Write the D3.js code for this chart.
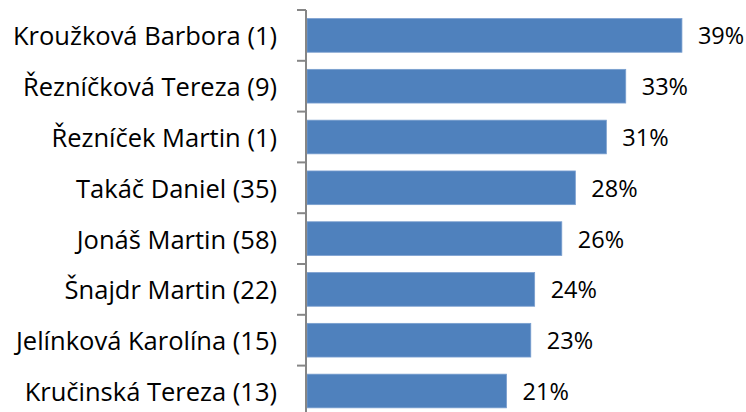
<!DOCTYPE html>
<html>
<head>
<meta charset="utf-8">
<script src="https://cdn.jsdelivr.net/npm/d3@7"></script>
<style>
  html, body { margin: 0; padding: 0; background: #fff; }
  svg { display: block; }
</style>
</head>
<body>
<svg id="chart" width="746" height="412"></svg>
<script>
// Category labels (name and count) from top to bottom
const names = [
  "Kroužková Barbora (1)",
  "Řezníčková Tereza (9)",
  "Řezníček Martin (1)",
  "Takáč Daniel (35)",
  "Jonáš Martin (58)",
  "Šnajdr Martin (22)",
  "Jelínková Karolína (15)",
  "Kručinská Tereza (13)"
];
// Share for each person
const shares = [0.388, 0.330, 0.310, 0.278, 0.264, 0.236, 0.232, 0.207];
// Horizontal value range
const xDomain = [0, 0.45];

const svg = d3.select("#chart");
const font = "'Open Sans', Lato, sans-serif";

const axisX = 306;
const x = d3.scaleLinear().domain(xDomain).range([axisX, 742]);
const pad = 0.337;
const y = d3.scaleBand().domain(names).range([10, 416.4])
  .paddingInner(pad).paddingOuter(pad / 2);
const step = y.step();

// Bars
svg.append("g").selectAll("rect")
  .data(names)
  .join("rect")
  .attr("x", x(0) + 1)
  .attr("y", d => y(d))
  .attr("width", (d, i) => x(shares[i]) - x(0) - 1)
  .attr("height", y.bandwidth())
  .attr("fill", "#4F81BD")
  .attr("stroke", "#7A9FCF")
  .attr("stroke-width", 0.8);

// Category axis with boundary ticks
const axis = svg.append("g").attr("stroke", "#868686").attr("stroke-width", 2);
axis.append("line")
  .attr("x1", axisX).attr("x2", axisX)
  .attr("y1", y.range()[0]).attr("y2", y.range()[1]);
const bounds = names.map(d => y(d) - step * pad / 2).concat([y.range()[1]]);
axis.selectAll("line.tick")
  .data(bounds)
  .join("line")
  .attr("class", "tick")
  .attr("x1", axisX - 9).attr("x2", axisX)
  .attr("y1", d => d).attr("y2", d => d);

// Category labels
svg.append("g").selectAll("text")
  .data(names)
  .join("text")
  .attr("x", 277)
  .attr("y", d => y(d) + y.bandwidth() / 2)
  .attr("text-anchor", "end")
  .attr("dominant-baseline", "central")
  .attr("font-family", font)
  .attr("font-size", 25.5)
  .attr("fill", "#000")
  .text(d => d);

// Value labels
const fmt = d3.format(".0%");
svg.append("g").selectAll("text")
  .data(names)
  .join("text")
  .attr("x", (d, i) => x(shares[i]) + 16)
  .attr("y", d => y(d) + y.bandwidth() / 2)
  .attr("dominant-baseline", "central")
  .attr("font-family", font)
  .attr("font-size", 23.5)
  .attr("fill", "#000")
  .text((d, i) => fmt(shares[i]));
</script>
</body>
</html>
